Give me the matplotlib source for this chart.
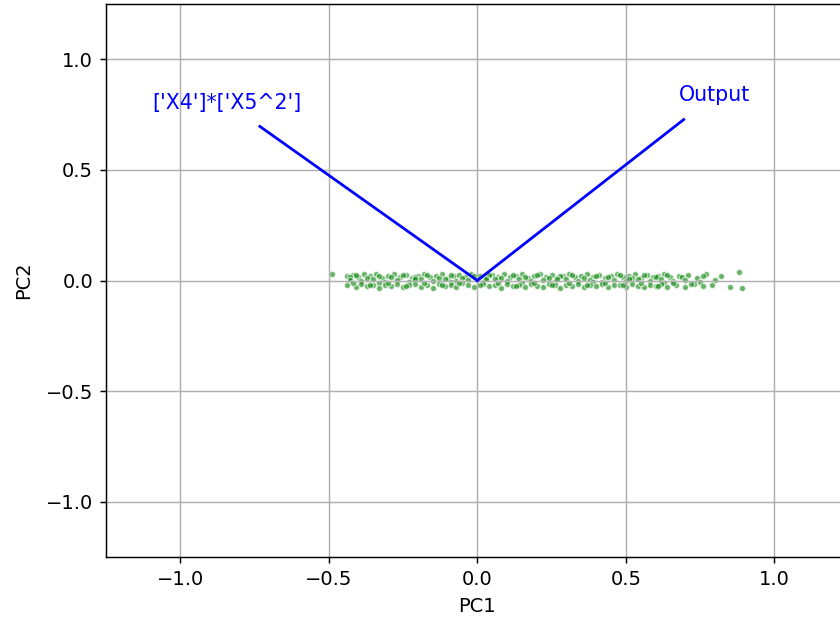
import matplotlib
matplotlib.use('Agg')
import matplotlib.pyplot as plt

# scores on the first two principal components
upper_pc1 = [-0.49, -0.44, -0.42, -0.40, -0.38, -0.36, -0.34, -0.32, -0.30, -0.28,
             -0.26, -0.24, -0.22, -0.20, -0.18, -0.16, -0.14, -0.12, -0.10, -0.08,
             -0.06, -0.04, -0.02, 0.01, 0.03, 0.05, 0.07, 0.09, 0.11, 0.13,
             0.15, 0.17, 0.19, 0.21, 0.23, 0.25, 0.27, 0.29, 0.31, 0.33,
             0.35, 0.37, 0.39, 0.41, 0.43, 0.45, 0.47, 0.49, 0.51, 0.53,
             0.55, 0.57, 0.59, 0.61, 0.63, 0.65, 0.68, 0.71, 0.74, 0.77,
             0.82, 0.88]
upper_pc2 = [0.030, 0.020, 0.025, 0.015, 0.030, 0.020, 0.028, 0.012, 0.022, 0.030,
             0.018, 0.025, 0.010, 0.020, 0.030, 0.015, 0.022, 0.028, 0.012, 0.020,
             0.025, 0.015, 0.030, 0.020, 0.012, 0.025, 0.018, 0.030, 0.015, 0.022,
             0.028, 0.012, 0.020, 0.030, 0.018, 0.025, 0.012, 0.022, 0.030, 0.015,
             0.020, 0.028, 0.018, 0.025, 0.012, 0.022, 0.030, 0.015, 0.020, 0.028,
             0.012, 0.025, 0.018, 0.022, 0.030, 0.015, 0.020, 0.025, 0.012, 0.028,
             0.020, 0.040]

upper2_pc1 = [-0.43, -0.41, -0.37, -0.33, -0.29, -0.25, -0.21, -0.17, -0.13, -0.09,
              -0.05, -0.01, 0.04, 0.08, 0.12, 0.16, 0.20, 0.24, 0.28, 0.32,
              0.36, 0.40, 0.44, 0.48, 0.52, 0.56, 0.60, 0.64, 0.69, 0.76]
upper2_pc2 = [0.018, 0.026, 0.012, 0.022, 0.016, 0.027, 0.014, 0.024, 0.010, 0.026,
              0.012, 0.020, 0.027, 0.010, 0.024, 0.016, 0.026, 0.012, 0.020, 0.027,
              0.010, 0.022, 0.016, 0.026, 0.012, 0.024, 0.014, 0.026, 0.018, 0.022]

middle_pc1 = [-0.43, -0.39, -0.35, -0.31, -0.27, -0.23, -0.19, -0.15, -0.11, -0.07,
              -0.03, 0.02, 0.06, 0.10, 0.14, 0.18, 0.22, 0.26, 0.30, 0.34,
              0.38, 0.42, 0.46, 0.50, 0.54, 0.58, 0.62, 0.66, 0.70, 0.75,
              -0.33, -0.21, -0.09, 0.03, 0.15, 0.27, 0.39, 0.51, 0.63, 0.80]
middle_pc2 = [0.004, -0.003, 0.006, -0.005, 0.002, -0.006, 0.005, -0.002, 0.007, -0.004,
              0.003, -0.006, 0.005, -0.002, 0.006, -0.004, 0.002, -0.005, 0.006, -0.003,
              0.004, -0.006, 0.003, -0.002, 0.005, -0.004, 0.006, -0.003, 0.002, -0.005,
              -0.009, 0.008, -0.008, 0.009, -0.009, 0.008, -0.008, 0.009, -0.009, 0.002]

lower_pc1 = [-0.44, -0.41, -0.39, -0.37, -0.35, -0.33, -0.31, -0.29, -0.27, -0.25,
             -0.23, -0.21, -0.19, -0.17, -0.15, -0.13, -0.11, -0.09, -0.07, -0.05,
             -0.03, -0.01, 0.02, 0.04, 0.06, 0.08, 0.10, 0.12, 0.14, 0.16,
             0.18, 0.20, 0.22, 0.24, 0.26, 0.28, 0.30, 0.32, 0.34, 0.36,
             0.38, 0.40, 0.42, 0.44, 0.46, 0.48, 0.50, 0.52, 0.54, 0.56,
             0.58, 0.60, 0.62, 0.64, 0.67, 0.70, 0.73, 0.76, 0.79, 0.85, 0.89]
lower_pc2 = [-0.020, -0.030, -0.015, -0.025, -0.020, -0.032, -0.018, -0.026, -0.014, -0.030,
             -0.022, -0.016, -0.028, -0.020, -0.033, -0.015, -0.024, -0.018, -0.028, -0.012,
             -0.022, -0.030, -0.016, -0.025, -0.019, -0.032, -0.014, -0.026, -0.021, -0.030,
             -0.017, -0.024, -0.028, -0.015, -0.022, -0.032, -0.018, -0.026, -0.014, -0.029,
             -0.020, -0.025, -0.016, -0.031, -0.022, -0.018, -0.027, -0.014, -0.024, -0.030,
             -0.019, -0.026, -0.015, -0.028, -0.022, -0.030, -0.017, -0.026, -0.020, -0.030, -0.032]

lower2_pc1 = [-0.42, -0.36, -0.30, -0.24, -0.18, -0.12, -0.06, 0.01, 0.07, 0.13,
              0.19, 0.25, 0.31, 0.37, 0.43, 0.49, 0.55, 0.61, 0.66, 0.72]
lower2_pc2 = [-0.012, -0.022, -0.010, -0.024, -0.011, -0.021, -0.013, -0.020, -0.010, -0.023,
              -0.012, -0.020, -0.011, -0.022, -0.010, -0.021, -0.012, -0.023, -0.011, -0.014]

# loadings of the two variables
features = ["['X4']*['X5^2']", 'Output']
load_pc1 = [-0.732, 0.695]
load_pc2 = [0.697, 0.728]

plt.rcParams.update({
    'font.size': 14,
    'axes.linewidth': 1.05,
    'grid.linewidth': 1.05,
    'xtick.major.size': 4.6,
    'ytick.major.size': 4.6,
    'xtick.major.width': 1.05,
    'ytick.major.width': 1.05,
    'xtick.major.pad': 4.6,
    'ytick.major.pad': 4.6,
    'axes.labelpad': 6,
})

fig = plt.figure(figsize=(8.4, 6.24), dpi=100)
ax = fig.add_axes([0.1262, 0.1074, 0.884, 0.886])

pc1 = upper_pc1 + upper2_pc1 + middle_pc1 + lower_pc1 + lower2_pc1
pc2 = upper_pc2 + upper2_pc2 + middle_pc2 + lower_pc2 + lower2_pc2
ax.scatter(pc1, pc2, c='green', s=20, alpha=0.6, edgecolors='w', linewidths=1.0)

for name, lx, ly in zip(features, load_pc1, load_pc2):
    ax.plot([0, lx], [0, ly], color='b', lw=2)
    ax.text(lx * 1.15, ly * 1.15, name, color='b', ha='center', va='center', fontsize=14.8)

ax.set_xlim(-1.25, 1.25)
ax.set_ylim(-1.25, 1.25)
ax.set_xlabel('PC1')
ax.set_ylabel('PC2', labelpad=9)
ax.grid(True)

fig.savefig('out.png', dpi=100)
